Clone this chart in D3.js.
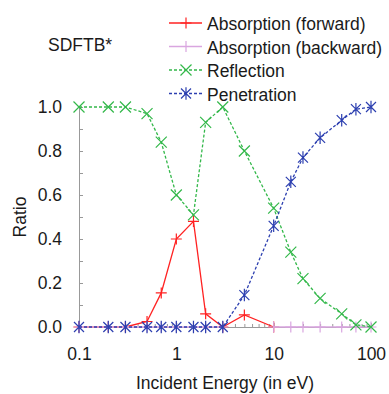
<!DOCTYPE html>
<html>
<head>
<meta charset="utf-8">
<script src="https://cdn.jsdelivr.net/npm/d3@7"></script>
<style>
  body { margin: 0; background: #fff; }
  svg text { font-family: "Liberation Sans", Arial, sans-serif; fill: #1a1a1a; }
</style>
</head>
<body>
<div id="chart"></div>
<script>
// incident energies (eV)
const energy = [0.1, 0.2, 0.3, 0.5, 0.7, 1, 1.5, 2, 3, 5, 10, 15, 20, 30, 50, 70, 100];

// ratios (null = no point)
const absForward  = [0, 0, 0, 0.025, 0.155, 0.4, 0.48, 0.06, 0, 0.055, 0, null, null, null, null, null, null];
const absBackward = [0, 0, 0, 0, 0, 0, 0, 0, 0, null, 0, 0, 0, 0, 0, 0, 0];
const reflection  = [1, 1, 1, 0.97, 0.84, 0.6, 0.51, 0.93, 1.0, 0.8, 0.54, 0.34, 0.22, 0.13, 0.06, 0.01, 0];
const penetration = [0, 0, 0, 0, 0, 0, 0, 0, 0, 0.145, 0.46, 0.66, 0.77, 0.86, 0.94, 0.99, 1];

const xMajorTicks = [0.1, 1, 10, 100];
const yTicks = [0, 0.1, 0.2, 0.3, 0.4, 0.5, 0.6, 0.7, 0.8, 0.9, 1.0];

const W = 389, H = 394;
const FONT = '17.5px';

const svg = d3.select('#chart').append('svg')
  .attr('width', W)
  .attr('height', H);

const x = d3.scaleLog().domain([0.1, 100]).range([79, 371]);
const y = d3.scaleLinear().domain([0, 1]).range([327, 107]);

// minor ticks for the log axis (2..9 in each decade)
const xMinorTicks = [];
for (let d = 0.1; d < 100; d *= 10) {
  for (let k = 2; k <= 9; k++) xMinorTicks.push(+(d * k).toPrecision(3));
}

// X axis
const xAxis = svg.append('g')
  .attr('transform', `translate(0,${y(0)})`)
  .call(d3.axisBottom(x)
    .tickValues(xMajorTicks)
    .tickSize(-4)
    .tickSizeOuter(0)
    .tickPadding(21)
    .tickFormat(d3.format('~g')));
xAxis.selectAll('text').style('font-size', FONT).style('fill', '#1a1a1a');
xAxis.selectAll('line').style('stroke', '#999');
xAxis.select('.domain').style('stroke', '#999');

svg.append('g')
  .attr('transform', `translate(0,${y(0)})`)
  .call(d3.axisBottom(x).tickValues(xMinorTicks).tickSize(-3).tickFormat(''))
  .call(g => g.select('.domain').remove())
  .selectAll('line').style('stroke', '#999');

// Y axis
const yAxis = svg.append('g')
  .attr('transform', `translate(${x(0.1)},0)`)
  .call(d3.axisLeft(y)
    .tickValues(yTicks)
    .tickSize(-4)
    .tickSizeOuter(0)
    .tickPadding(17)
    .tickFormat((d, i) => i % 2 === 0 ? d3.format('.1f')(d) : ''));
yAxis.selectAll('text').style('font-size', FONT).style('fill', '#1a1a1a');
yAxis.selectAll('line').style('stroke', '#999');
yAxis.select('.domain').style('stroke', '#999');

// axis titles
svg.append('text')
  .attr('x', (x.range()[0] + x.range()[1]) / 2)
  .attr('y', 389)
  .attr('text-anchor', 'middle')
  .style('font-size', FONT)
  .text('Incident Energy (in eV)');

svg.append('text')
  .attr('transform', `translate(26,${(y(0) + y(1)) / 2}) rotate(-90)`)
  .attr('text-anchor', 'middle')
  .style('font-size', FONT)
  .text('Ratio');

svg.append('text')
  .attr('x', 48)
  .attr('y', 51)
  .style('font-size', FONT)
  .text('SDFTB*');

// marker shapes
const markers = {
  plus: s => `M${-s},0H${s}M0,${-s}V${s}`,
  cross: s => `M${-s},${-s}L${s},${s}M${-s},${s}L${s},${-s}`,
  star: s => `M${-s},${-s}L${s},${s}M${-s},${s}L${s},${-s}M0,${-s * 1.25}V${s * 1.25}`
};

const series = [
  { name: 'Absorption (forward)',  values: absForward,  color: '#f22', dash: null,  marker: 'plus',  size: 5.5 },
  { name: 'Absorption (backward)', values: absBackward, color: '#d9a6e0', dash: null,  marker: 'plus',  size: 5.5 },
  { name: 'Reflection',            values: reflection,  color: '#33b84a', dash: '3,2', marker: 'cross', size: 5.5 },
  { name: 'Penetration',           values: penetration, color: '#2c3fb0', dash: '3,2', marker: 'star',  size: 5 }
];

const line = d3.line()
  .defined(d => d[1] !== null)
  .x(d => x(d[0]))
  .y(d => y(d[1]));

series.forEach(s => {
  const pts = energy.map((e, i) => [e, s.values[i]]);
  svg.append('path')
    .datum(pts)
    .attr('d', line)
    .attr('fill', 'none')
    .attr('stroke', s.color)
    .attr('stroke-width', 1.3)
    .attr('stroke-dasharray', s.dash);

  svg.selectAll(null)
    .data(pts.filter(d => d[1] !== null))
    .enter().append('path')
    .attr('transform', d => `translate(${x(d[0])},${y(d[1])})`)
    .attr('d', markers[s.marker](s.size))
    .attr('fill', 'none')
    .attr('stroke', s.color)
    .attr('stroke-width', 1.2);
});

// legend
const legend = svg.append('g').attr('transform', 'translate(169,23)');
series.forEach((s, i) => {
  const row = legend.append('g').attr('transform', `translate(0,${i * 23.5})`);
  row.append('line')
    .attr('x1', 0).attr('x2', 33)
    .attr('stroke', s.color)
    .attr('stroke-width', 1.3)
    .attr('stroke-dasharray', s.dash);
  row.append('path')
    .attr('transform', 'translate(17,0)')
    .attr('d', markers[s.marker](s.size))
    .attr('fill', 'none')
    .attr('stroke', s.color)
    .attr('stroke-width', 1.2);
  row.append('text')
    .attr('x', 38)
    .attr('y', 7)
    .style('font-size', FONT)
    .text(s.name);
});
</script>
</body>
</html>
